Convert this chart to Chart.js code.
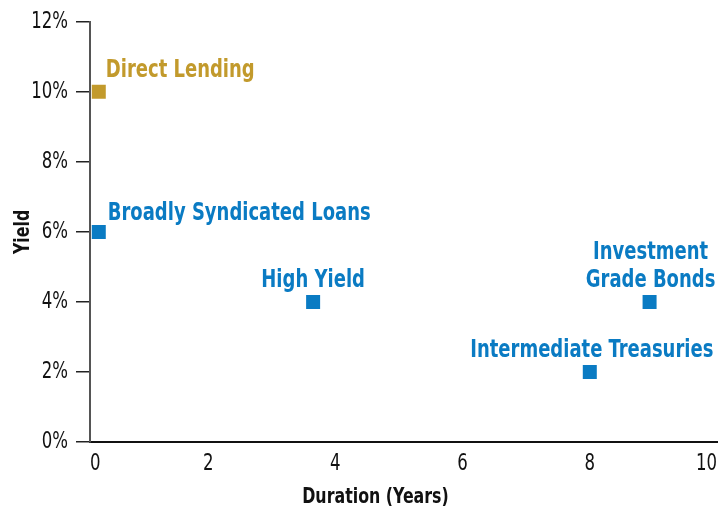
<!DOCTYPE html>
<html>
<head>
<meta charset="utf-8">
<script src="https://cdn.jsdelivr.net/npm/chart.js@4"></script>
<style>
html,body{margin:0;padding:0;background:#fff;}
#wrap{width:723px;height:510px;position:relative;}
</style>
</head>
<body>
<div id="wrap"><canvas id="c" width="723" height="510"></canvas></div>
<script>
const names = ['Direct Lending', 'Broadly Syndicated Loans', 'High Yield', 'Investment Grade Bonds', 'Intermediate Treasuries'];
const labelLines = [['Direct Lending'], ['Broadly Syndicated Loans'], ['High Yield'], ['Investment', 'Grade Bonds'], ['Intermediate Treasuries']];
const duration = [0.28, 0.28, 3.65, 8.94, 8.0];
const yieldPct = [10, 6, 4, 4, 2];
const xTickValues = [0, 2, 4, 6, 8, 10];
const yTickValues = [0, 2, 4, 6, 8, 10, 12];

const GOLD = '#C29A2C';
const BLUE = '#0A7BC3';
const colors = names.map((n, i) => i === 0 ? GOLD : BLUE);
// label placement styles: [align, dx, baseline dy of first line]
const labelPlace = [['left', 7, -15], ['left', 9, -12], ['center', 0, -15], ['center', 1, -43], ['center', 2, -14.5]];

const FONT = "'Liberation Sans Narrow', 'DejaVu Sans Condensed', 'DejaVu Sans', sans-serif";
const SQUEEZE = 0.8;

const canvas = document.getElementById('c');
const c2d = canvas.getContext('2d');
c2d.fillText = function (t, x, y, mw) {
  const w = CanvasRenderingContext2D.prototype.measureText.call(this, String(t)).width * SQUEEZE;
  const m = (mw === undefined || mw === null) ? w : Math.min(mw, w);
  return CanvasRenderingContext2D.prototype.fillText.call(this, t, x, y, m);
};

const pointLabels = {
  id: 'pointLabels',
  afterDatasetsDraw(chart) {
    const ctx = chart.ctx;
    const xs = chart.scales.x, ys = chart.scales.y;
    ctx.save();
    ctx.font = "bold 25px " + FONT;
    ctx.textBaseline = 'alphabetic';
    labelLines.forEach((lines, i) => {
      const px = xs.getPixelForValue(duration[i]);
      const py = ys.getPixelForValue(yieldPct[i]);
      const [al, dx, dy] = labelPlace[i];
      ctx.textAlign = al;
      ctx.fillStyle = colors[i];
      lines.forEach((t, k) => ctx.fillText(t, px + dx, py + dy + k * 28.5));
    });
    ctx.restore();
  }
};

const adjustX = {
  id: 'adjustX',
  beforeDraw(chart) {
    const s = chart.scales.x;
    const items = s.getLabelItems();
    if (items.length && items[0].label === '0') {
      const off = chart.chartArea.left - s.getPixelForValue(0);
      items[0].options.translation[0] += off;
    }
    if (!s._titleWrapped) {
      const orig = s.drawTitle;
      s.drawTitle = function () {
        const ctx = this.ctx;
        ctx.save();
        ctx.translate(-28, 0);
        orig.call(this);
        ctx.restore();
      };
      s._titleWrapped = true;
    }
  }
};

new Chart(canvas, {
  type: 'scatter',
  data: {
    datasets: [{
      data: duration.map((d, i) => ({x: d, y: yieldPct[i]})),
      pointStyle: 'rect',
      pointRadius: 9.9,
      pointHoverRadius: 9.9,
      pointBackgroundColor: colors,
      pointBorderColor: colors,
      pointBorderWidth: 0
    }]
  },
  options: {
    responsive: false,
    animation: false,
    devicePixelRatio: 1,
    layout: {autoPadding: false, padding: {left: 0, right: 6, top: 19, bottom: 0}},
    plugins: {legend: {display: false}, tooltip: {enabled: false}},
    scales: {
      x: {
        type: 'linear',
        min: 0.142,
        max: 10,
        afterBuildTicks(s) { s.ticks = xTickValues.map(v => ({value: v})); },
        afterFit(s) { s.height = 68; s.paddingLeft = 0; s.paddingRight = 0; },
        border: {display: true, color: '#111', width: 2},
        grid: {display: false, drawTicks: false},
        ticks: {
          align: 'inner',
          padding: 8,
          color: '#111',
          font: {family: FONT, size: 23},
          callback: v => String(v)
        },
        title: {display: true, text: 'Duration (Years)', color: '#111', font: {family: FONT, size: 22, weight: 'bold'}, padding: {top: 2, bottom: 0}}
      },
      y: {
        type: 'linear',
        min: 0,
        max: 12,
        afterBuildTicks(s) { s.ticks = yTickValues.map(v => ({value: v})); },
        afterFit(s) { s.width = 90; },
        border: {display: true, color: '#555', width: 2},
        grid: {display: true, drawOnChartArea: false, drawTicks: true, tickLength: 14, color: '#222', lineWidth: 1.5},
        ticks: {
          padding: 8,
          color: '#111',
          font: {family: FONT, size: 23},
          callback: v => v + '%'
        },
        title: {display: true, text: 'Yield', color: '#111', font: {family: FONT, size: 22, weight: 'bold'}, padding: {top: 10, bottom: 0}}
      }
    }
  },
  plugins: [pointLabels, adjustX]
});
</script>
</body>
</html>
